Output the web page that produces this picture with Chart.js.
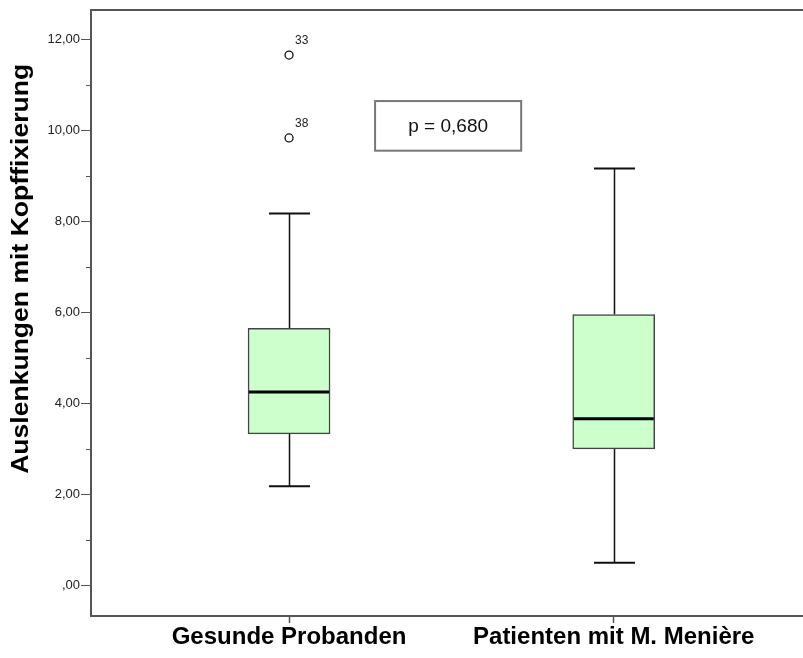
<!DOCTYPE html>
<html>
<head>
<meta charset="utf-8">
<script src="https://cdn.jsdelivr.net/npm/chart.js@4"></script>
<style>
  html, body { margin: 0; padding: 0; background: #fff; }
  #wrap { width: 803px; height: 658px; }
</style>
</head>
<body>
<div id="wrap"><canvas id="boxChart"></canvas></div>
<script>
// Gruppen
var categories = ["Gesunde Probanden", "Patienten mit M. Menière"];
// Boxplot-Kennwerte je Gruppe
var whiskerLow = [2.18, 0.5];
var q1 = [3.33, 3.0];
var median = [4.25, 3.66];
var q3 = [5.65, 5.95];
var whiskerHigh = [8.17, 9.16];
// Ausreißer (nur Gruppe 1)
var outlierGroup = [1, 1];
var outlierValues = [11.65, 9.83];
var outlierIds = ["33", "38"];
// y-Achse
var yTickValues = [0, 1, 2, 3, 4, 5, 6, 7, 8, 9, 10, 11, 12];
var yTitle = "Auslenkungen mit Kopffixierung";
var pText = "p = 0,680";

var frameColor = "#555";
var fontFamily = "'Liberation Sans', Arial, sans-serif";

var boxData = categories.map(function (c, i) {
  return { x: i + 1, y: [q1[i], q3[i]] };
});
var outlierData = outlierValues.map(function (v, i) {
  return { x: outlierGroup[i], y: v };
});

function fmt(v) {
  var s = v.toFixed(2).replace(".", ",");
  return s.indexOf("0,") === 0 ? s.substring(1) : s;
}

// Whisker, Median, Ausreißer-Beschriftung, p-Wert-Kasten, Achsentitel
var boxExtras = {
  id: "boxExtras",
  beforeDatasetsDraw: function (chart) {
    var ctx = chart.ctx;
    var xs = chart.scales.x;
    var ys = chart.scales.y;
    ctx.save();
    ctx.strokeStyle = "#111";
    categories.forEach(function (c, i) {
      var cx = Math.round(xs.getPixelForValue(i + 1)) + 0.5;
      ctx.lineWidth = 1.5;
      ctx.beginPath();
      ctx.moveTo(cx, ys.getPixelForValue(whiskerHigh[i]));
      ctx.lineTo(cx, ys.getPixelForValue(q3[i]));
      ctx.moveTo(cx, ys.getPixelForValue(q1[i]));
      ctx.lineTo(cx, ys.getPixelForValue(whiskerLow[i]));
      ctx.stroke();
      ctx.lineWidth = 2;
      ctx.beginPath();
      ctx.moveTo(cx - 20.5, ys.getPixelForValue(whiskerHigh[i]));
      ctx.lineTo(cx + 20.5, ys.getPixelForValue(whiskerHigh[i]));
      ctx.moveTo(cx - 20.5, ys.getPixelForValue(whiskerLow[i]));
      ctx.lineTo(cx + 20.5, ys.getPixelForValue(whiskerLow[i]));
      ctx.stroke();
    });
    ctx.restore();
  },
  afterDatasetsDraw: function (chart) {
    var ctx = chart.ctx;
    var xs = chart.scales.x;
    var ys = chart.scales.y;
    var area = chart.chartArea;
    ctx.save();
    // Median
    ctx.strokeStyle = "#000";
    ctx.lineWidth = 3;
    categories.forEach(function (c, i) {
      var cx = xs.getPixelForValue(i + 1);
      var my = ys.getPixelForValue(median[i]);
      ctx.beginPath();
      ctx.moveTo(cx - 40, my);
      ctx.lineTo(cx + 40, my);
      ctx.stroke();
    });
    // Ausreißer-Nummern
    ctx.fillStyle = "#222";
    ctx.font = "12px " + fontFamily;
    ctx.textAlign = "left";
    ctx.textBaseline = "middle";
    outlierValues.forEach(function (v, i) {
      ctx.fillText(outlierIds[i], xs.getPixelForValue(outlierGroup[i]) + 6, ys.getPixelForValue(v) - 14);
    });
    // kurze Zwischenstriche (ungerade Werte)
    ctx.strokeStyle = frameColor;
    ctx.lineWidth = 1;
    yTickValues.forEach(function (v) {
      if (v % 2 === 1) {
        var ty = Math.round(ys.getPixelForValue(v)) + 0.5;
        ctx.beginPath();
        ctx.moveTo(area.left - 5, ty);
        ctx.lineTo(area.left, ty);
        ctx.stroke();
      }
    });
    // obere Rahmenlinie
    ctx.lineWidth = 2;
    ctx.beginPath();
    ctx.moveTo(area.left - 1, area.top);
    ctx.lineTo(chart.width, area.top);
    ctx.stroke();
    // p-Wert-Kasten
    var bx1 = xs.getPixelForValue(1.265);
    var bx2 = xs.getPixelForValue(1.715);
    var by1 = ys.getPixelForValue(10.64);
    var by2 = ys.getPixelForValue(9.55);
    ctx.fillStyle = "#fff";
    ctx.fillRect(bx1, by1, bx2 - bx1, by2 - by1);
    ctx.strokeStyle = "#777";
    ctx.lineWidth = 2;
    ctx.strokeRect(bx1, by1, bx2 - bx1, by2 - by1);
    ctx.fillStyle = "#111";
    ctx.font = "19px " + fontFamily;
    ctx.textAlign = "center";
    ctx.fillText(pText, (bx1 + bx2) / 2, (by1 + by2) / 2 + 1);
    // y-Achsentitel (gestreckt wie im Original)
    ctx.font = "bold 24px " + fontFamily;
    var tw = ctx.measureText(yTitle).width;
    ctx.translate(28, (ys.getPixelForValue(11.46) + ys.getPixelForValue(2.45)) / 2);
    ctx.rotate(-Math.PI / 2);
    ctx.scale(410 / tw, 1);
    ctx.fillStyle = "#000";
    ctx.textBaseline = "alphabetic";
    ctx.fillText(yTitle, 0, 0);
    ctx.restore();
  },
};

var boxChartConfig = {
  type: "bar",
  data: {
    datasets: [
      {
        type: "bar",
        label: "Box",
        data: boxData,
        backgroundColor: "#ccffcc",
        borderColor: "#444",
        borderWidth: 1.5,
        borderSkipped: false,
        barThickness: 82,
        order: 2,
      },
      {
        type: "scatter",
        label: "Ausreißer",
        data: outlierData,
        pointStyle: "circle",
        pointRadius: 4,
        backgroundColor: "#fff",
        borderColor: "#111",
        borderWidth: 1.3,
        order: 1,
      },
    ],
  },
  options: {
    responsive: true,
    maintainAspectRatio: false,
    animation: false,
    layout: {
      autoPadding: false,
      padding: { top: 10, right: 0, bottom: 0, left: 0 },
    },
    plugins: {
      legend: { display: false },
      tooltip: { enabled: false },
    },
    scales: {
      x: {
        type: "linear",
        offset: false,
        min: 0.39,
        max: 2.583,
        afterBuildTicks: function (scale) {
          scale.ticks = categories.map(function (c, i) {
            return { value: i + 1 };
          });
        },
        afterFit: function (scale) {
          scale.height = 42;
        },
        ticks: {
          padding: 0,
          maxRotation: 0,
          autoSkip: false,
          color: "#000",
          font: { family: fontFamily, size: 24, weight: "bold" },
          callback: function (value) {
            return categories[value - 1];
          },
        },
        grid: {
          offset: false,
          drawOnChartArea: false,
          tickLength: 7,
          tickWidth: 1.5,
          tickColor: frameColor,
        },
        border: { display: true, color: frameColor, width: 2 },
      },
      y: {
        min: -0.67,
        max: 12.64,
        afterBuildTicks: function (scale) {
          scale.ticks = yTickValues.map(function (v) {
            return { value: v };
          });
        },
        afterFit: function (scale) {
          scale.width = 91;
        },
        ticks: {
          padding: 1,
          color: "#222",
          font: { family: fontFamily, size: 13 },
          callback: function (value) {
            return value % 2 === 0 ? fmt(value) : "";
          },
        },
        grid: {
          drawOnChartArea: false,
          tickLength: 10,
          tickWidth: 1,
          tickColor: function (ctx) {
            return ctx.tick && ctx.tick.value % 2 === 1 ? "transparent" : frameColor;
          },
        },
        border: { display: true, color: frameColor, width: 2 },
      },
    },
  },
  plugins: [boxExtras],
};

var boxChart = new Chart(document.getElementById("boxChart"), boxChartConfig);
</script>
</body>
</html>
